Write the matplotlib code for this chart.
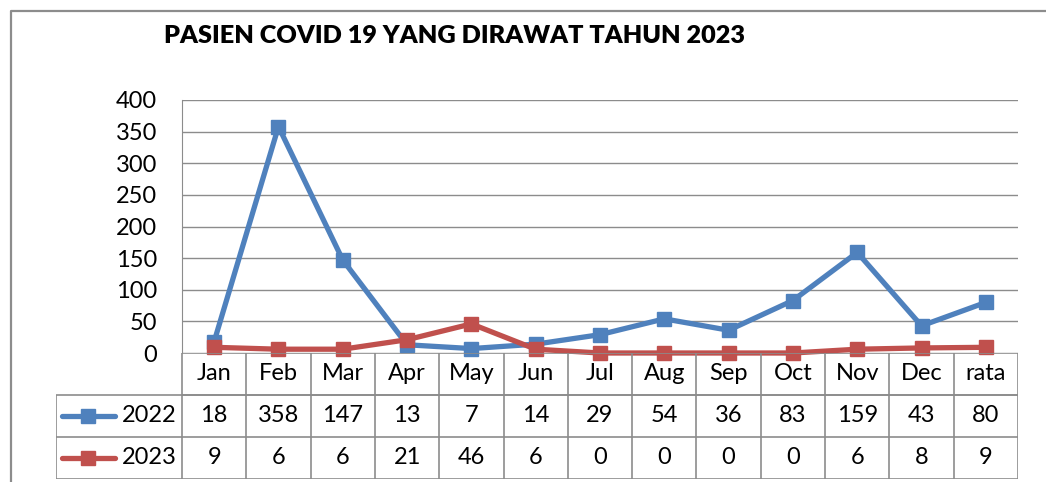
import matplotlib.pyplot as plt
import numpy as np

months = ['Jan', 'Feb', 'Mar', 'Apr', 'May', 'Jun', 'Jul', 'Aug', 'Sep', 'Oct', 'Nov', 'Dec', 'rata']
pasien_2022 = [18, 358, 147, 13, 7, 14, 29, 54, 36, 83, 159, 43, 80]
pasien_2023 = [9, 6, 6, 21, 46, 6, 0, 0, 0, 0, 6, 8, 9]
series = [('2022', pasien_2022, '#4F81BD'), ('2023', pasien_2023, '#C0504D')]

plt.rcParams['font.family'] = ['Lato', 'DejaVu Sans']
W, H = 1046, 482
fig = plt.figure(figsize=(W / 100, H / 100), dpi=100)

def px_axes(x0, y0, x1, y1):
    return fig.add_axes([x0 / W, 1 - y1 / H, (x1 - x0) / W, (y1 - y0) / H])

# outer chart frame (left and top only visible)
frame = px_axes(0, 0, W, H)
frame.set_xlim(0, W)
frame.set_ylim(H, 0)
frame.axis('off')
frame.plot([11, 11, W], [H, 11, 11], color='#8c8c8c', lw=1.6)

fig.text(454 / W, 1 - 36 / H, 'PASIEN COVID 19 YANG DIRAWAT TAHUN 2023',
         ha='center', va='center', fontsize=18.2, fontweight='heavy')

fs = 17
# plot area
ax = px_axes(182, 100, 1018, 353)
x = np.arange(len(months))
ax.set_xlim(-0.5, len(months) - 0.5)
ax.set_ylim(0, 400)
ax.set_yticks(range(0, 401, 50))
ax.tick_params(axis='y', labelsize=fs, length=0, pad=18)
ax.set_xticks([])
ax.grid(axis='y', color='#8c8c8c', lw=1)
for s in ['top', 'right', 'bottom']:
    ax.spines[s].set_visible(False)
ax.spines['left'].set_color('#8c8c8c')
ax.set_axisbelow(True)
for name, vals, col in series:
    ax.plot(x, vals, color=col, lw=3.8, marker='s', markersize=9.5, clip_on=False)

# data table
lab_w = 126 / ((1018 - 182) / len(months))
tb = px_axes(56, 353, 1018, 479)
tb.set_xlim(-0.5 - lab_w, len(months) - 0.5)
tb.set_ylim(3, 0)
tb.axis('off')
gc = '#8c8c8c'
tb.hlines([0, 1], -0.5, len(months) - 0.5, color=gc, lw=1.2)
tb.hlines([1, 2, 3], -0.5 - lab_w, len(months) - 0.5, color=gc, lw=1.2)
for i in range(len(months) + 1):
    tb.vlines(i - 0.5, 0, 3, color=gc, lw=1.2)
tb.vlines(-0.5 - lab_w, 1, 3, color=gc, lw=1.2)
for i, m in enumerate(months):
    tb.text(i, 0.5, m, ha='center', va='center', fontsize=fs)
for r, (name, vals, col) in enumerate(series, start=1):
    y = r + 0.5
    x0 = -0.5 - lab_w
    tb.plot([x0 + 0.1, x0 + 0.92], [y, y], color=col, lw=3.8, solid_capstyle='round')
    tb.plot([x0 + 0.5], [y], color=col, marker='s', markersize=9.5)
    tb.text(x0 + 1.02, y, name, ha='left', va='center', fontsize=fs)
    for i, v in enumerate(vals):
        tb.text(i, y, str(v), ha='center', va='center', fontsize=fs)

fig.savefig('out.png', dpi=100)
